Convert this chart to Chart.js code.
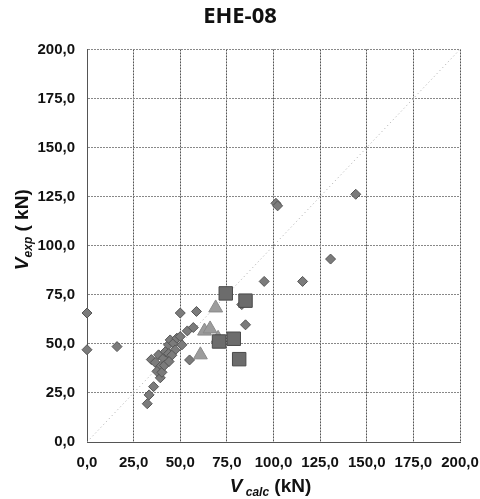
<!DOCTYPE html>
<html lang="es">
<head>
<meta charset="UTF-8" />
<title>EHE-08</title>
<script src="https://cdn.jsdelivr.net/npm/chart.js@4.4.1/dist/chart.umd.min.js"></script>
<style>
  body { margin: 0; background: #fff; }
  #wrap { width: 480px; height: 499px; }
</style>
</head>
<body>
<div id="wrap">
  <canvas id="chart1" width="480" height="499"></canvas>
</div>
<script>
// ensayos: V calc (eje x) y V exp (eje y), en kN
const rombosX = [0, 0, 16.1, 50, 58.7, 95, 115.6, 130.6, 144.1, 101.3, 102.2, 83, 85, 53.8, 57,
  55, 32.3, 33.3, 35.7, 39.3, 34.5, 36.6, 38.4, 39.5, 37.5, 40.2, 41, 42, 43.7, 44.6,
  46.4, 47.3, 48.2, 50, 50.9, 43.7, 45.5, 41.5, 44];
const rombosY = [65.7, 47, 48.6, 65.7, 66.5, 81.8, 81.8, 93.2, 126.2, 121.6, 120.3, 70, 59.7, 56.6, 58.3,
  41.8, 19.5, 24, 28.2, 32.7, 42, 40.5, 44.4, 38.5, 36, 35.5, 42.7, 46, 49.5, 52,
  50.3, 46.9, 52.9, 53.7, 49.5, 45, 44.2, 39, 41];

const triangulosX = [69, 63, 66, 60.8, 70.3];
const triangulosY = [68.3, 56.5, 57.6, 44.4, 52.8];

const cuadradosX = [74.4, 85, 70.8, 78.7, 81.6];
const cuadradosY = [75.7, 72, 51.2, 52.6, 42.2];

// recta Vexp = Vcalc
const rectaX = [0, 200];
const rectaY = [0, 200];

const ticksEje = [0, 25, 50, 75, 100, 125, 150, 175, 200];

function puntos(xs, ys) {
  return xs.map((x, i) => ({ x: x, y: ys[i] }));
}

const fuente = '"Liberation Sans", Arial, sans-serif';

// dibuja texto con subindice (V calc, V exp)
function textoPartes(ctx, cx, y, partes) {
  let total = 0;
  partes.forEach(p => { ctx.font = p.f; total += ctx.measureText(p.t).width; });
  let x = cx - total / 2;
  partes.forEach(p => {
    ctx.font = p.f;
    ctx.fillText(p.t, x, y + (p.dy || 0));
    x += ctx.measureText(p.t).width;
  });
}

const titulosEjes = {
  id: 'titulosEjes',
  afterDraw(chart) {
    const ctx = chart.ctx;
    const a = chart.chartArea;
    ctx.save();
    ctx.fillStyle = '#111';
    ctx.textAlign = 'left';
    ctx.textBaseline = 'alphabetic';
    textoPartes(ctx, (a.left + a.right) / 2 - 3, 492, [
      { t: 'V', f: 'italic bold 19px ' + fuente },
      { t: ' calc', f: 'italic bold 12px ' + fuente, dy: 4 },
      { t: ' (kN)', f: 'bold 19px ' + fuente }
    ]);
    ctx.translate(28, (a.top + a.bottom) / 2 - 16);
    ctx.rotate(-Math.PI / 2);
    textoPartes(ctx, 0, 0, [
      { t: 'V', f: 'italic bold 19px ' + fuente },
      { t: 'exp', f: 'italic bold 12px ' + fuente, dy: 4 },
      { t: ' ( kN)', f: 'bold 19px ' + fuente }
    ]);
    ctx.restore();
  }
};

const fmt = v => v.toFixed(1).replace('.', ',');

new Chart(document.getElementById('chart1').getContext('2d'), {
  type: 'scatter',
  data: {
    datasets: [
      {
        type: 'line',
        data: puntos(rectaX, rectaY),
        borderColor: '#aaaaaa',
        borderWidth: 1,
        borderDash: [1, 3],
        pointRadius: 0,
        order: 10
      },
      {
        data: puntos(rombosX, rombosY),
        pointStyle: 'rectRot',
        pointRadius: 5,
        backgroundColor: '#7b7b7b',
        borderColor: '#555555',
        borderWidth: 1,
        clip: false,
        order: 3
      },
      {
        data: puntos(triangulosX, triangulosY),
        pointStyle: 'triangle',
        pointRadius: 8,
        backgroundColor: '#9c9c9c',
        borderColor: '#8a8a8a',
        borderWidth: 1,
        clip: false,
        order: 2
      },
      {
        data: puntos(cuadradosX, cuadradosY),
        pointStyle: 'rect',
        pointRadius: 9.5,
        backgroundColor: '#6c6c6c',
        borderColor: '#4a4a4a',
        borderWidth: 1,
        clip: false,
        order: 1
      }
    ]
  },
  options: {
    responsive: false,
    animation: false,
    layout: { padding: 0 },
    plugins: {
      legend: { display: false },
      tooltip: { enabled: false },
      title: {
        display: true,
        text: 'EHE-08',
        color: '#111',
        font: { family: '"Open Sans", sans-serif', size: 22, weight: 'bold' },
        padding: { top: 4, bottom: 19 }
      }
    },
    scales: {
      x: {
        type: 'linear',
        min: 0,
        max: 200,
        afterBuildTicks: s => { s.ticks = ticksEje.map(v => ({ value: v })); },
        // margen fijo a la derecha para la etiqueta 200,0
        afterFit: s => { s.height = 57; s.paddingRight = 20; s.paddingLeft = 0; },
        ticks: {
          callback: fmt,
          color: '#111',
          padding: 12,
          maxRotation: 0,
          font: { family: fuente, size: 15, weight: 'bold' }
        },
        grid: { color: '#555', drawTicks: false },
        border: { color: '#555', dash: [2, 1] }
      },
      y: {
        type: 'linear',
        min: 0,
        max: 200,
        afterBuildTicks: s => { s.ticks = ticksEje.map(v => ({ value: v })); },
        afterFit: s => { s.width = 87; },
        ticks: {
          callback: fmt,
          color: '#111',
          padding: 12,
          font: { family: fuente, size: 15, weight: 'bold' }
        },
        grid: { color: '#888', drawTicks: false, tickBorderDash: [] },
        border: { color: '#555', dash: [2, 1] }
      }
    }
  },
  plugins: [titulosEjes]
});
</script>
</body>
</html>
